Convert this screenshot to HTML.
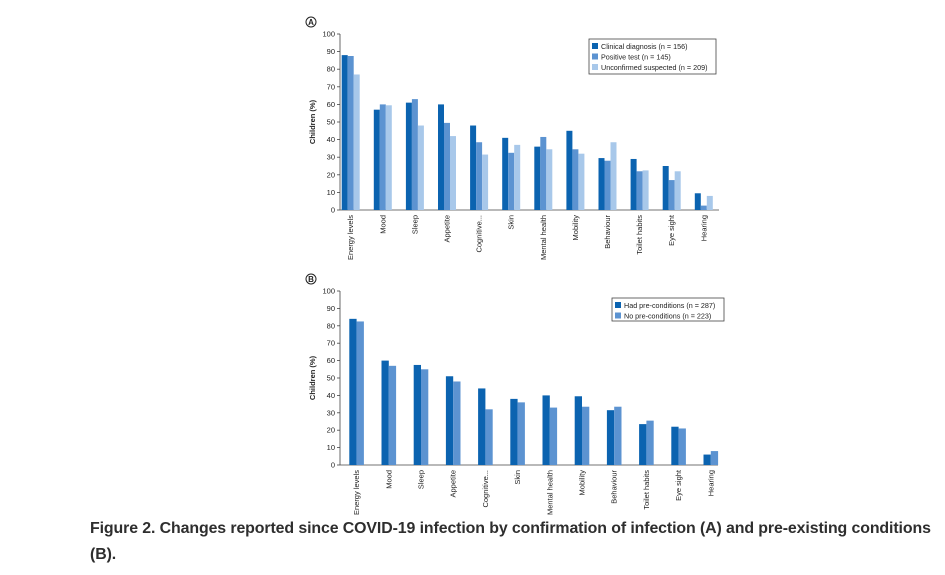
<!DOCTYPE html>
<html><head><meta charset="utf-8"><style>
body{margin:0;background:#fff;width:945px;height:575px;overflow:hidden;font-family:"Liberation Sans",sans-serif}
#cap{position:absolute;left:90px;top:516px;width:855px;white-space:nowrap;font-weight:bold;font-size:15.9px;line-height:26px;color:#2e2e2e;letter-spacing:-0.1px}
svg{position:absolute;left:0;top:0}
</style></head><body>
<svg id="chart" width="945" height="520" font-family="Liberation Sans, sans-serif"></svg>
<div id="cap">Figure 2. Changes reported since COVID-19 infection by confirmation of infection (A) and pre-existing conditions<br>(B).</div>
<script>
const categories=["Energy levels","Mood","Sleep","Appetite","Cognitive...","Skin","Mental health","Mobility","Behaviour","Toilet habits","Eye sight","Hearing"];
const ticks=[0,10,20,30,40,50,60,70,80,90,100];
const clinical=[88,57,61,60,48,41,36,45,29.5,29,25,9.5];
const positive=[87.5,60,63,49.5,38.5,32.5,41.5,34.5,28,22,17,2.5];
const unconfirmed=[77,59.5,48,42,31.5,37,34.5,32,38.5,22.5,22,8];
const hadPre=[84,60,57.5,51,44,38,40,39.5,31.5,23.5,22,6];
const noPre=[82.5,57,55,48,32,36,33,33.5,33.5,25.5,21,8];
const legendA=["Clinical diagnosis (n = 156)","Positive test (n = 145)","Unconfirmed suspected (n = 209)"];
const legendB=["Had pre-conditions (n = 287)","No pre-conditions (n = 223)"];
const colors=["#0b63b0","#5c93d1","#a8c8ea"];
const svg=document.getElementById('chart');
const NS="http://www.w3.org/2000/svg";
function mk(t,a,p){const e=document.createElementNS(NS,t);for(const k in a)e.setAttribute(k,a[k]);(p||svg).appendChild(e);return e;}
function panel(cfg){
  const g=mk('g',{});
  
  
  const y=v=>cfg.y0-(v/100)*(cfg.y0-cfg.y100);
  const x=i=>cfg.firstX+i*cfg.step;
  const c=mk('circle',{cx:cfg.lx,cy:cfg.ly,r:5,fill:'none',stroke:'#222','stroke-width':1},g);
  
  const lt=mk('text',{x:cfg.lx,y:cfg.ly+3,'font-size':8,'font-weight':'bold','text-anchor':'middle',fill:'#222'},g);
  lt.textContent=cfg.label;
  const ax=mk('line',{x1:cfg.ax,y1:cfg.y100,x2:cfg.ax,y2:cfg.y0,stroke:'#444','stroke-width':0.8},g);
  
  const bx=mk('line',{x1:cfg.ax,y1:cfg.y0,x2:cfg.xEnd,y2:cfg.y0,stroke:'#444','stroke-width':0.8},g);
  
  ticks.forEach(t=>{
    const tl=mk('line',{x1:cfg.ax-3,y1:y(t),x2:cfg.ax,y2:y(t),stroke:'#444','stroke-width':0.8},g);
    
    const tx=mk('text',{x:cfg.ax-5,y:y(t)+2.5,'font-size':7.5,'text-anchor':'end',fill:'#222'},g);
    tx.textContent=t;
  });
  const yt=mk('text',{x:0,y:0,'font-size':7.5,'font-weight':'bold','text-anchor':'middle',fill:'#222',transform:`translate(${cfg.ax-25},${(cfg.y0+cfg.y100)/2}) rotate(-90)`},g);
  yt.textContent='Children (%)';
  const n=cfg.series.length;
  categories.forEach((cat,i)=>{
    cfg.series.forEach((s,j)=>{
      const v=s[i];
      const r=mk('rect',{x:x(i)+j*cfg.bw,y:y(v),width:cfg.bw,height:cfg.y0-y(v),fill:colors[j]},g);
      
      
    });
    const cx=x(i)+n*cfg.bw/2+2.5;
    const lb=mk('text',{x:0,y:0,'font-size':7.5,'text-anchor':'end',fill:'#222',transform:`translate(${cx},${cfg.y0+5}) rotate(-90)`},g);
    lb.textContent=cat;
  });
  const L=cfg.legend;
  const lb=mk('rect',{x:L.x,y:L.y,width:L.w,height:L.h,fill:'#fff',stroke:'#444','stroke-width':0.8},g);
  
  cfg.legendText.forEach((t,j)=>{
    const sw=mk('rect',{x:L.x+3,y:L.y+4+j*10.5,width:6,height:6,fill:colors[j]},g);
    
    const tx=mk('text',{x:L.x+12,y:L.y+10+j*10.5,'font-size':7.2,fill:'#222'},g);
    tx.textContent=t;
  });
}
panel({name:'chart-a',label:'A',lx:311,ly:22,ax:340,y0:210,y100:34,xEnd:719,firstX:341.7,step:32.1,bw:6,
  series:[clinical,positive,unconfirmed],legendText:legendA,legend:{x:589,y:39,w:127,h:35}});
panel({name:'chart-b',label:'B',lx:311,ly:279,ax:340,y0:465,y100:291,xEnd:718,firstX:349.3,step:32.2,bw:7.3,
  series:[hadPre,noPre],legendText:legendB,legend:{x:612,y:298,w:112,h:23}});
</script>
</body></html>
